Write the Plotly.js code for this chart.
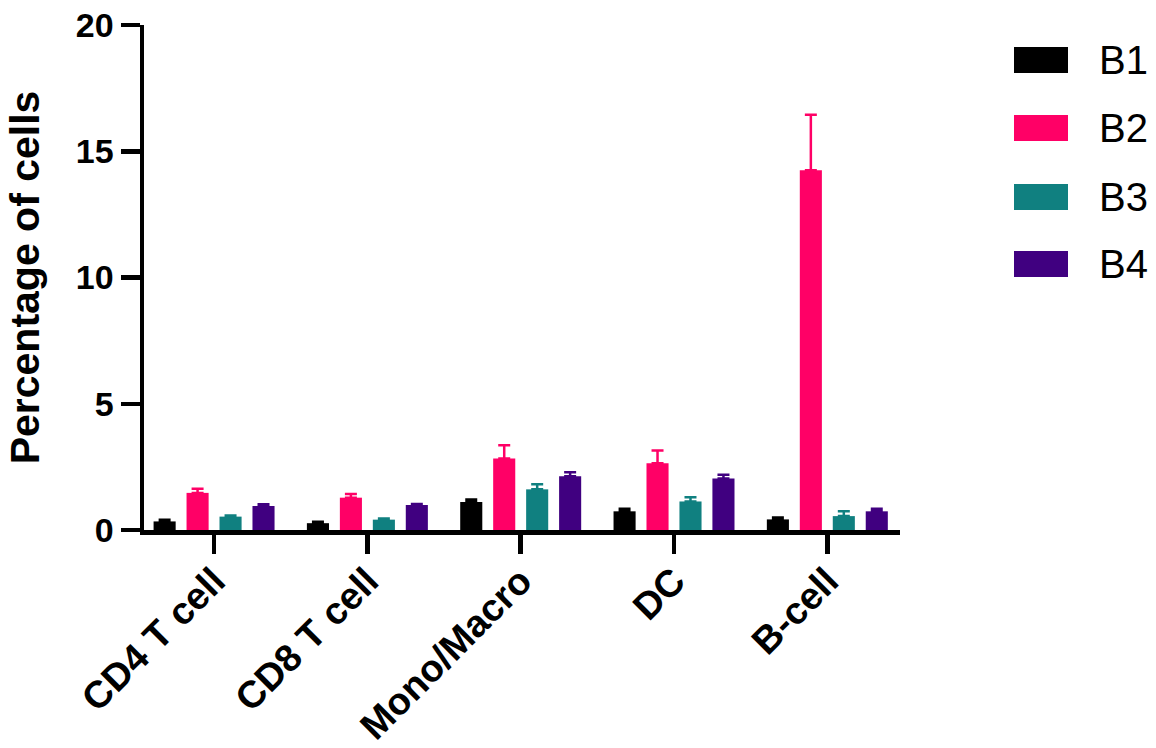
<!DOCTYPE html>
<html>
<head>
<meta charset="utf-8">
<script src="https://cdn.plot.ly/plotly-3.0.1.min.js"></script>
<style>
  html, body { margin: 0; padding: 0; background: #ffffff; }
  #chart { width: 1156px; height: 748px; }
</style>
</head>
<body>
<div id="chart"></div>
<script>
// ---- data ----
const categories = ["CD4 T cell", "CD8 T cell", "Mono/Macro", "DC", "B-cell"];
const seriesNames = ["B1", "B2", "B3", "B4"];
const b1Values = [0.34, 0.27, 1.11, 0.74, 0.42];
const b1Errors = [0.07, 0.06, 0.10, 0.10, 0.08];
const b2Values = [1.47, 1.28, 2.83, 2.64, 14.25];
const b2Errors = [0.16, 0.15, 0.53, 0.51, 2.2];
const b3Values = [0.53, 0.41, 1.61, 1.13, 0.55];
const b3Errors = [0.04, 0.05, 0.20, 0.17, 0.19];
const b4Values = [0.95, 0.99, 2.13, 2.04, 0.74];
const b4Errors = [0.07, 0.04, 0.16, 0.15, 0.10];
const yTicks = [0, 5, 10, 15, 20];

// ---- styles ----
const colors = ["#000000", "#FF0066", "#108080", "#400080"];
const FONT = "Arial, 'Liberation Sans', sans-serif";
const values = [b1Values, b2Values, b3Values, b4Values];
const errors = [b1Errors, b2Errors, b3Errors, b4Errors];

const xIdx = categories.map((_, i) => i);
const traces = seriesNames.map((name, s) => ({
  type: "bar",
  name: name,
  x: xIdx,
  y: values[s],
  marker: { color: colors[s], line: { width: 0 } },
  error_y: {
    type: "data",
    symmetric: false,
    array: errors[s],
    arrayminus: values[s].map(() => 0),
    color: colors[s],
    thickness: 2.5,
    width: 6
  },
  showlegend: false,
  hoverinfo: "x+y"
}));

// custom legend (large swatches like the reference)
const W = 1156, H = 748;
const M = { l: 144, r: 256, t: 25, b: 218 };
const pw = W - M.l - M.r, ph = H - M.t - M.b;
const px2x = (px) => (px - M.l) / pw;
const py2y = (py) => (H - M.b - py) / ph;
const legendCenters = [60, 128, 197, 264];
const shapes = [];
const annotations = [];
seriesNames.forEach((name, s) => {
  const cy = legendCenters[s];
  shapes.push({
    type: "rect", xref: "paper", yref: "paper",
    x0: px2x(1014), x1: px2x(1068),
    y0: py2y(cy + 13), y1: py2y(cy - 13),
    fillcolor: colors[s], line: { width: 0 }
  });
  annotations.push({
    xref: "paper", yref: "paper",
    x: px2x(1097), y: py2y(cy),
    xanchor: "left", yanchor: "middle",
    text: name, showarrow: false,
    font: { family: FONT, size: 40, color: "#000000" }
  });
});

const layout = {
  width: W, height: H,
  margin: M,
  paper_bgcolor: "#ffffff",
  plot_bgcolor: "#ffffff",
  barmode: "group",
  bargap: 0.14,
  bargroupgap: 0.33,
  showlegend: false,
  font: { family: FONT, color: "#000000" },
  xaxis: {
    tickmode: "array",
    tickvals: xIdx,
    ticktext: categories,
    range: [-0.457, 4.474],
    tickangle: -45,
    ticks: "outside",
    ticklen: 19,
    tickwidth: 4.5,
    tickcolor: "#000000",
    ticklabelstandoff: -10,
    showline: true,
    linewidth: 4.5,
    linecolor: "#000000",
    showgrid: false,
    zeroline: false,
    tickfont: { family: FONT, size: 38, color: "#000000", weight: "bold" },
    automargin: false
  },
  yaxis: {
    range: [0, 20],
    tickmode: "array",
    tickvals: yTicks,
    ticktext: yTicks.map(String),
    ticks: "outside",
    ticklen: 19,
    tickwidth: 4.5,
    tickcolor: "#000000",
    showline: true,
    linewidth: 4.5,
    linecolor: "#000000",
    showgrid: false,
    zeroline: false,
    tickfont: { family: FONT, size: 34, color: "#000000", weight: "bold" },
    title: {
      text: "<b>Percentage of cells</b>",
      font: { family: FONT, size: 41, color: "#000000" },
      standoff: 25
    },
    automargin: false
  },
  shapes: shapes,
  annotations: annotations
};

Plotly.newPlot("chart", traces, layout, { staticPlot: true, displayModeBar: false });
</script>
</body>
</html>
